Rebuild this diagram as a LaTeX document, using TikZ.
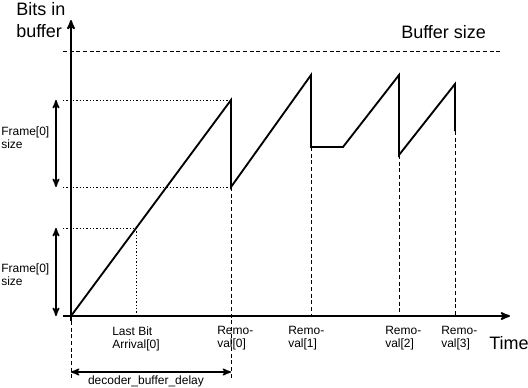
\documentclass[tikz,border=0pt]{standalone}
\usepackage{fontspec}
\setmainfont{Liberation Sans}
\usetikzlibrary{arrows,positioning}

\begin{document}
\begin{tikzpicture}[x=0.75pt,y=0.75pt,>=stealth',
	axis/.style={->,line width=1.4pt},
	curve/.style={line width=1.4pt,line join=miter},
	guide/.style={line width=0.6pt,dash pattern=on 3pt off 2pt},
	fine/.style={line width=0.5pt,dash pattern=on 1pt off 1.5pt},
	span/.style={<->,line width=1.2pt},
	lbl/.style={anchor=west,align=left,inner sep=0pt,font=\fontsize{9}{9.75}\selectfont},
	big/.style={anchor=west,align=left,inner sep=0pt,font=\fontsize{13.5}{16.5}\selectfont}]
			\useasboundingbox (-71,-71) rectangle (457,316);
			% axes
			\coordinate (o) at (0,0);
			\coordinate (x_0) at (-8,0);
			\coordinate (x_1) at (439,0);
			\coordinate (y_0) at (0,-5);
			\coordinate (y_1) at (0,296);
			\draw[axis] (x_0) -- (x_1);
			\draw[axis] (y_0) -- (y_1);
			\node[big] (time) at (418,-27) {Time};
			\node[big] (bits) at (-55,296) {Bits in\\buffer};
			% buffer size
			\coordinate (b_0) at (-8,265);
			\coordinate (b_1) at (431,265);
			\draw[guide] (b_0) -- (b_1);
			\node[big] (bsize) at (330,284) {Buffer size};
			% buffer fullness
			\coordinate (p_0) at (160,216);
			\coordinate (d_0) at (160,129);
			\coordinate (p_1) at (240,241);
			\coordinate (d_1) at (240,169);
			\coordinate (f_1) at (272,169);
			\coordinate (p_2) at (328,241);
			\coordinate (d_2) at (328,161);
			\coordinate (p_3) at (384,232);
			\coordinate (d_3) at (384,185);
			\draw[curve] (o) -- (p_0) -- (d_0) -- (p_1) -- (d_1) -- (f_1) -- (p_2) -- (d_2) -- (p_3) -- (d_3);
			% frame size guides
			\coordinate (a_0) at (65.2,88);
			\coordinate (h_0) at (-8,216);
			\coordinate (h_1) at (-8,129);
			\coordinate (h_2) at (-8,88);
			\coordinate (a_x) at (65.2,0);
			\draw[fine] (h_0) -- (p_0);
			\draw[fine] (h_1) -- (d_0);
			\draw[fine] (h_2) -- (a_0) -- (a_x);
			\coordinate (s_0) at (-15,216);
			\coordinate (s_1) at (-15,129);
			\coordinate (s_2) at (-15,88);
			\coordinate (s_3) at (-15,0);
			\draw[span] (s_0) -- (s_1);
			\draw[span] (s_2) -- (s_3);
			\node[lbl] (fr_0) at (-70,178) {Frame[0]\\size};
			\node[lbl] (fr_1) at (-70,41) {Frame[0]\\size};
			% removal times
			\coordinate (r_0) at (160,-62);
			\coordinate (r_1) at (240,0);
			\coordinate (r_2) at (328,0);
			\coordinate (r_3) at (384,0);
			\coordinate (t_0) at (0,-62);
			\draw[guide] (d_0) -- (r_0);
			\draw[guide] (d_1) -- (r_1);
			\draw[guide] (d_2) -- (r_2);
			\draw[guide] (d_3) -- (r_3);
			\draw[guide] (y_0) -- (t_0);
			\node[lbl] (last) at (41,-22.5) {Last Bit\\Arrival[0]};
			\node[lbl] (rem_0) at (146,-22.5) {Remo-\\val[0]};
			\node[lbl] (rem_1) at (217,-22.5) {Remo-\\val[1]};
			\node[lbl] (rem_2) at (314,-22.5) {Remo-\\val[2]};
			\node[lbl] (rem_3) at (370,-22.5) {Remo-\\val[3]};
			% delay
			\coordinate (e_0) at (0,-56);
			\coordinate (e_1) at (160,-56);
			\draw[span] (e_0) -- (e_1);
			\node[lbl,anchor=center] (delay) at (75,-65) {decoder\_buffer\_delay};
		\end{tikzpicture}
\end{document}
